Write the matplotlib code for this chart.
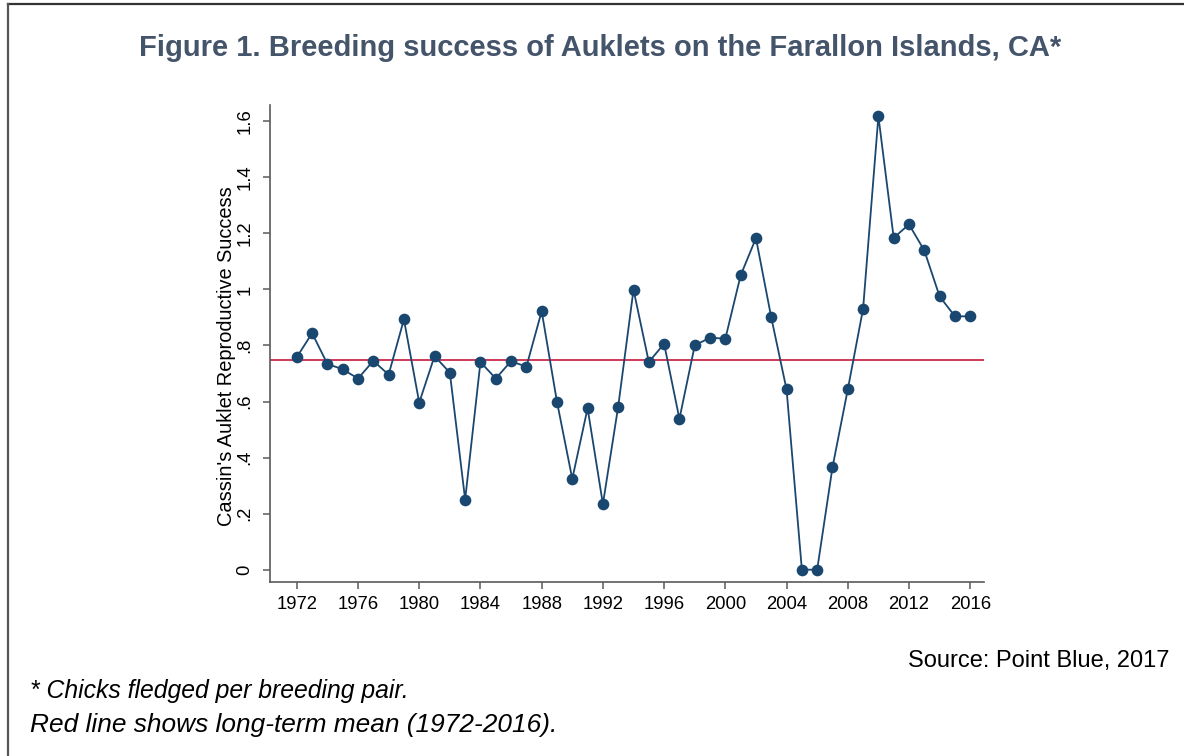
import matplotlib
matplotlib.use('Agg')
import matplotlib.pyplot as plt
from matplotlib.lines import Line2D

plt.rcParams['font.family'] = ['Liberation Sans', 'DejaVu Sans']

# data
years = list(range(1972, 2017))
success = [0.758, 0.844, 0.734, 0.715, 0.682, 0.745, 0.696, 0.893, 0.596, 0.762,
           0.703, 0.250, 0.741, 0.682, 0.744, 0.724, 0.922, 0.599, 0.324, 0.576,
           0.234, 0.582, 0.999, 0.741, 0.806, 0.538, 0.800, 0.828, 0.824, 1.050,
           1.183, 0.900, 0.643, 0.000, 0.000, 0.365, 0.643, 0.931, 1.618, 1.184,
           1.232, 1.139, 0.975, 0.904, 0.904]
mean_value = 0.749
x_ticks = list(range(1972, 2017, 4))
y_ticks = [0, 0.2, 0.4, 0.6, 0.8, 1.0, 1.2, 1.4, 1.6]
y_labels = ['0', '.2', '.4', '.6', '.8', '1', '1.2', '1.4', '1.6']

W, H = 1184, 756
fig = plt.figure(figsize=(W / 100, H / 100), dpi=100)

# plot region
ax = fig.add_axes([270 / W, 1 - 582 / H, (984 - 270) / W, (582 - 105) / H])
ax.plot(years, success, color='#1a476f', lw=1.3, marker='o', ms=8.4,
        markeredgewidth=0, zorder=3)
ax.axhline(mean_value, color='#c8163c', lw=1.2, zorder=2)

ax.set_xlim(1970.25, 2016.9)
ax.set_ylim(-0.044, 1.658)
ax.set_xticks(x_ticks)
ax.set_yticks(y_ticks)
ax.set_yticklabels(y_labels, rotation=90, va='center')

for side in ['top', 'right']:
    ax.spines[side].set_visible(False)
for side in ['left', 'bottom']:
    ax.spines[side].set_color('#5a5a5a')
    ax.spines[side].set_linewidth(1.2)
ax.tick_params(axis='both', direction='out', length=5, width=1.1,
               color='#5a5a5a', labelsize=13.3, labelcolor='black')
ax.tick_params(axis='x', pad=5)
ax.tick_params(axis='y', pad=7)

# texts
fig.text(600 / W, 1 - 48 / H,
         'Figure 1. Breeding success of Auklets on the Farallon Islands, CA*',
         ha='center', va='center', fontsize=21, fontweight='bold', color='#44546a')
fig.text(226 / W, 1 - 356 / H, "Cassin's Auklet Reproductive Success",
         rotation=90, ha='center', va='center', fontsize=14.4)
fig.text(1170 / W, 1 - 661 / H, 'Source: Point Blue, 2017',
         ha='right', va='center', fontsize=17)
fig.text(30 / W, 1 - 691 / H, '* Chicks fledged per breeding pair.',
         ha='left', va='center', fontsize=17.8, style='italic')
fig.text(30 / W, 1 - 725 / H, 'Red line shows long-term mean (1972-2016).',
         ha='left', va='center', fontsize=18.9, style='italic')

# outer frame (top and left edges)
fig.add_artist(Line2D([8 / W, 1], [1 - 4 / H, 1 - 4 / H], color='#333333', lw=1.6))
fig.add_artist(Line2D([8 / W, 8 / W], [0, 1 - 4 / H], color='#555555', lw=1.6))

fig.savefig('out.png', dpi=100)
